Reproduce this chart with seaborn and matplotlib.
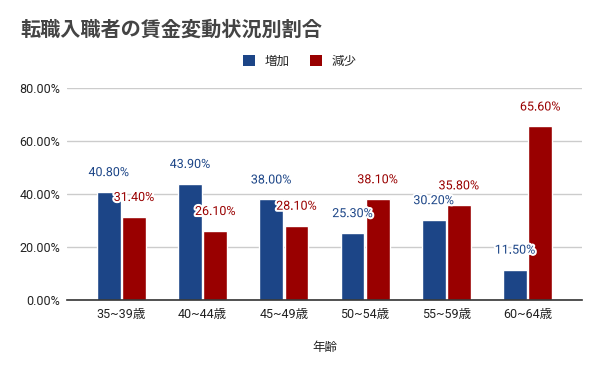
import pandas as pd
import seaborn as sns
import matplotlib.pyplot as plt
import matplotlib.patheffects as pe
from matplotlib.patches import Patch
from matplotlib.ticker import PercentFormatter

# data
age_groups = ['35~39歳', '40~44歳', '45~49歳', '50~54歳', '55~59歳', '60~64歳']
increase = [40.8, 43.9, 38.0, 25.3, 30.2, 11.5]
decrease = [31.4, 26.1, 28.1, 38.1, 35.8, 65.6]
series_names = ['増加', '減少']
colors = ['#1c4587', '#990000']

df = pd.DataFrame({
    '年齢': age_groups * 2,
    '割合': increase + decrease,
    '変動': [series_names[0]] * len(age_groups) + [series_names[1]] * len(age_groups),
})

sns.set_style('white')
plt.rcParams['font.family'] = ['Roboto', 'Noto Sans CJK JP', 'DejaVu Sans']

fig = plt.figure(figsize=(6, 3.71), dpi=100)
ax = fig.add_axes([67 / 600, 1 - 300 / 371, 515 / 600, 211.7 / 371])

sns.barplot(data=df, x='年齢', y='割合', hue='変動', palette=colors,
            width=0.62, gap=0.06, saturation=1, legend=False, ax=ax)

ax.set_xlim(-0.67, 5.67)
ax.set_ylim(0, 80)
ax.set_yticks([0, 20, 40, 60, 80])
ax.yaxis.set_major_formatter(PercentFormatter(xmax=100, decimals=2))
ax.grid(axis='y', color='#cccccc', linewidth=1)
ax.set_axisbelow(True)
for side in ['top', 'right', 'left']:
    ax.spines[side].set_visible(False)
ax.spines['bottom'].set_color('#333333')
ax.spines['bottom'].set_linewidth(1.2)
ax.tick_params(axis='both', length=0, labelsize=9, colors='#222222')
ax.tick_params(axis='x', pad=6)
ax.tick_params(axis='y', pad=5)
ax.set_ylabel('')
ax.set_xlabel('年齢', fontsize=9, color='#222222', labelpad=14)

# value labels above each bar
for cont, col in zip(ax.containers, colors):
    for bar in cont:
        h = bar.get_height()
        ax.annotate(f'{h:.2f}%', (bar.get_x() + bar.get_width() / 2, h),
                    xytext=(0, 14), textcoords='offset points',
                    ha='center', va='center', fontsize=9, color=col,
                    path_effects=[pe.withStroke(linewidth=3, foreground='white')])

fig.text(20 / 600, 1 - 30 / 371, '転職入職者の賃金変動状況別割合',
         fontsize=14.5, fontweight='bold', color='#444444', va='center', ha='left')

handles = [Patch(facecolor=c, edgecolor='none') for c in colors]
fig.legend(handles, series_names, loc='center', bbox_to_anchor=(0.5, 1 - 61 / 371),
           ncol=2, frameon=False, fontsize=9, handlelength=0.95, handleheight=0.95,
           handletextpad=0.8, columnspacing=1.6)

fig.savefig('out.png', dpi=100)
